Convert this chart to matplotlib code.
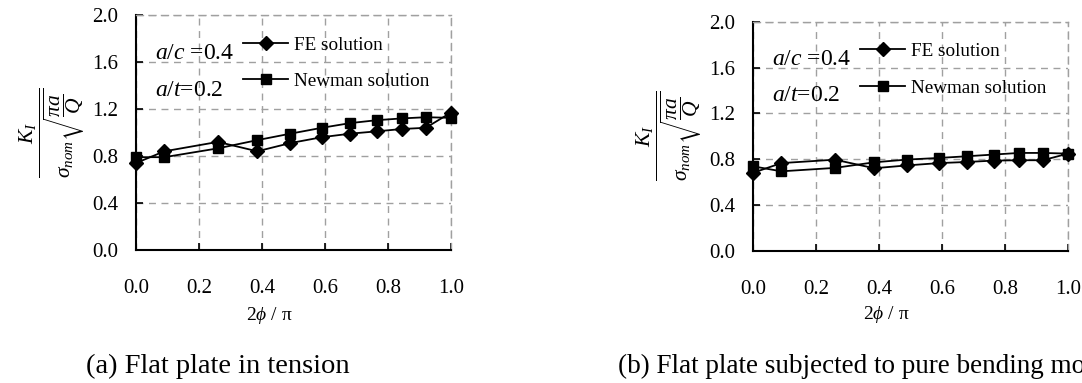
import matplotlib
matplotlib.use("Agg")
import matplotlib.pyplot as plt

plt.rcParams["font.family"] = ["Liberation Serif", "DejaVu Serif"]
plt.rcParams["mathtext.fontset"] = "custom"
plt.rcParams["mathtext.rm"] = "Liberation Serif"
plt.rcParams["mathtext.it"] = "Liberation Serif:italic"
plt.rcParams["mathtext.bf"] = "Liberation Serif:bold"

# 2*phi/pi positions along the crack front
PHI = [0.0, 0.09, 0.26, 0.385, 0.49, 0.59, 0.68, 0.765, 0.845, 0.92, 1.0]

# (a) tension
FE_TENSION = [0.74, 0.84, 0.92, 0.84, 0.91, 0.96, 0.99, 1.01, 1.03, 1.04, 1.17]
NEWMAN_TENSION = [0.79, 0.79, 0.865, 0.935, 0.99, 1.04, 1.08, 1.105, 1.12, 1.13, 1.125]

# (b) pure bending
FE_BENDING = [0.68, 0.765, 0.795, 0.72, 0.745, 0.765, 0.775, 0.787, 0.79, 0.79, 0.848]
NEWMAN_BENDING = [0.737, 0.693, 0.723, 0.772, 0.796, 0.81, 0.825, 0.84, 0.854, 0.854, 0.848]

X_TICKS = [0.0, 0.2, 0.4, 0.6, 0.8, 1.0]
Y_TICKS = [0.0, 0.4, 0.8, 1.2, 1.6, 2.0]

YLABEL = r"$\dfrac{K_I}{\sigma_{nom}\sqrt{\dfrac{\pi a}{Q}}}$"
XLABEL = r"2$\phi$ / π"


def draw_panel(ax, fe, newman):
    ax.plot(PHI, fe, color="black", lw=1.3, marker="D", ms=7,
            label="FE solution", zorder=3, clip_on=False)
    ax.plot(PHI, newman, color="black", lw=1.3, marker="s", ms=7,
            label="Newman solution", zorder=3, clip_on=False)

    ax.set_xlim(0, 1.0)
    ax.set_ylim(0, 2.0)
    ax.set_xticks(X_TICKS)
    ax.set_yticks(Y_TICKS)
    ax.set_xticklabels([f"{v:.1f}" for v in X_TICKS])
    ax.set_yticklabels([f"{v:.1f}" for v in Y_TICKS])
    ax.tick_params(direction="in", length=5, width=1.2, labelsize=15, color="black")
    ax.tick_params(axis="x", pad=21)
    ax.tick_params(axis="y", pad=13)

    ax.grid(True, ls=(0, (5, 4)), color="#a0a0a0", lw=1.0)
    ax.set_axisbelow(True)
    for side in ("top", "right"):
        ax.spines[side].set_linestyle((0, (5, 4)))
        ax.spines[side].set_color("#a0a0a0")
        ax.spines[side].set_linewidth(1.0)
    for side in ("left", "bottom"):
        ax.spines[side].set_linewidth(1.5)

    ax.set_xlabel(XLABEL, fontsize=14)
    ax.xaxis.set_label_coords(0.422, -0.235)
    ax.set_ylabel(YLABEL, fontsize=15.5)
    ax.yaxis.set_label_coords(-0.155, 0.5)

    ax.text(0.06, 0.835, r"$a/c$ =0.4", transform=ax.transAxes,
            fontsize=17, va="center", ha="left")
    ax.text(0.06, 0.68, r"$a/t$=0.2", transform=ax.transAxes,
            fontsize=17, va="center", ha="left")
    ax.legend(loc="upper left", bbox_to_anchor=(0.34, 0.91), frameon=False,
              fontsize=13.8, handlelength=2.35, handletextpad=0.3, labelspacing=1.0,
              borderpad=0, borderaxespad=0, numpoints=1)


fig = plt.figure(figsize=(10.82, 3.83), dpi=100)
ax1 = fig.add_axes([136 / 1082, 133 / 383, 315 / 1082, 235 / 383])
ax2 = fig.add_axes([753 / 1082, 132.5 / 383, 315 / 1082, 228.5 / 383])

draw_panel(ax1, FE_TENSION, NEWMAN_TENSION)
draw_panel(ax2, FE_BENDING, NEWMAN_BENDING)

fig.text(86 / 1082, 1 - 366 / 383, "(a) Flat plate in tension",
         fontsize=20.5, ha="left", va="center")
fig.text(618 / 1082, 1 - 366 / 383, "(b) Flat plate subjected to pure bending moment",
         fontsize=19.5, ha="left", va="center")

fig.savefig("out.png", dpi=100)
